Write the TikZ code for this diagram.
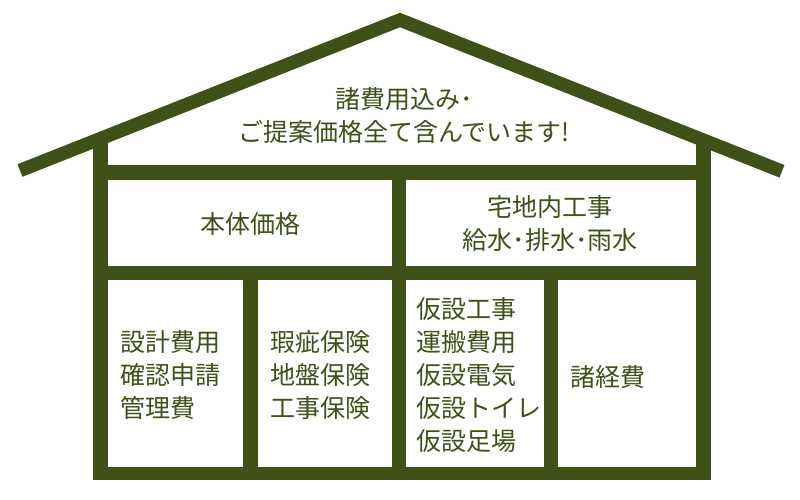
\documentclass[tikz,border=0pt]{standalone}
\usepackage{fontspec}
\newfontfamily\jfont{Noto Sans CJK JP}
\definecolor{housegreen}{RGB}{63,80,25}
\tikzset{
  lbl/.style={inner sep=0pt,text=housegreen,font=\jfont\fontsize{25}{33}\selectfont},
  roomfill/.style={fill=white}
}

\begin{document}
\begin{tikzpicture}[x=1pt,y=-1pt]
\useasboundingbox (0,0) rectangle (800,500);
\fill[white] (0,0) rectangle (800,500);
% frame of the house, rooms cut out in white
\fill[housegreen] (93,165) rectangle (711,480);
\fill[housegreen] (93,140) rectangle (108,165);
\fill[housegreen] (696,140) rectangle (711,165);
\foreach \a/\b in {{(108,180)}/{(392,266)},{(406,180)}/{(696,266)},
                   {(108,280)}/{(243,467)},{(258,280)}/{(392,467)},
                   {(406,280)}/{(544,467)},{(558,280)}/{(696,467)}}
  \fill[roomfill] \a rectangle \b;
% roof
\draw[housegreen,line width=13.5pt,line join=miter] (20,170.5) -- (400,20) -- (782,171.3);
% texts
\node[lbl,align=center] (roofnote) at (404,116) {諸費用込み･\\ご提案価格全て含んでいます!};
\node[lbl] (mainbody) at (250,224) {本体価格};
\node[lbl,align=center] (sitework) at (550,224) {宅地内工事\\給水･排水･雨水};
\node[lbl,align=left,anchor=west] (design) at (120,375) {設計費用\\確認申請\\管理費};
\node[lbl,align=left,anchor=west] (warranty) at (270,375) {瑕疵保険\\地盤保険\\工事保険};
\node[lbl,align=left,anchor=west] (temporary) at (416,375) {仮設工事\\運搬費用\\仮設電気\\仮設トイレ\\仮設足場};
\node[lbl,anchor=west] (overhead) at (570,377) {諸経費};
\end{tikzpicture}
\end{document}
